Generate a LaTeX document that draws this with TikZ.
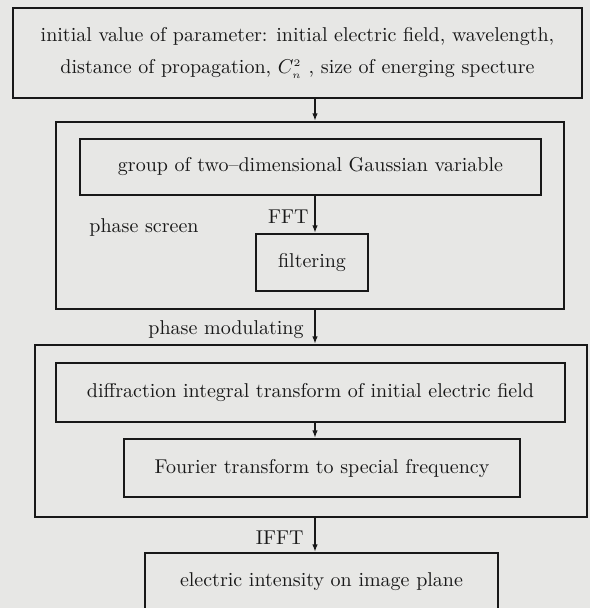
\documentclass[tikz,border=0pt]{standalone}
\usepackage{amsmath, amssymb}
\usetikzlibrary{positioning,arrows.meta}
\definecolor{paper}{RGB}{231,231,229}
\definecolor{ink}{RGB}{24,24,24}
\tikzset{
  flowarrow/.style={-{Latex[length=3.8pt,width=2.8pt]}, line width=0.9pt, draw=ink},
  stepbox/.style={draw=ink, line width=1.1pt, align=center, inner sep=0pt},
  outerbox/.style={draw=ink, line width=1.1pt, inner sep=0pt},
  relabel/.style={font=\fontsize{10}{12}\selectfont, inner sep=1pt}
}

\begin{document}
\begin{tikzpicture}[x=0.5pt, y=-0.5pt, every node/.style={font=\fontsize{10}{16}\selectfont, text=ink}]
  \fill[paper] (0,0) rectangle (590,608);
  \clip (0,0) rectangle (590,608);
  \coordinate (axis) at (315,0);

  % input parameters
  \node[stepbox, minimum width=284.5pt, minimum height=45pt] (param) at (297.5,53)
    {initial value of parameter: initial electric field, wavelength,\\ distance of propagation, $C^{\scriptscriptstyle 2}_{\scriptscriptstyle n}$ , size of energing specture};

  % phase screen block
  \node[outerbox, minimum width=254pt, minimum height=93.5pt] (screen) at (310,215.5) {};
  \node[stepbox, minimum width=230.5pt, minimum height=28pt] (gauss) at (310.5,167) {group of two--dimensional Gaussian variable};
  \node[stepbox, minimum width=56pt, minimum height=28.5pt] (filter) at (312,262.5) {filtering};
  \node[relabel] (screenlbl) at (144,228) {phase screen};

  % propagation block
  \node[outerbox, minimum width=276pt, minimum height=86pt] (modul) at (311,431) {};
  \node[stepbox, minimum width=254.5pt, minimum height=29.5pt] (diffr) at (310.5,392.5) {diffraction integral transform of initial electric field};
  \node[stepbox, minimum width=198pt, minimum height=29pt] (fourier) at (322,468) {Fourier transform to special frequency};

  % output
  \node[stepbox, minimum width=176.5pt, minimum height=29pt] (final) at (321.5,582) {electric intensity on image plane};

  \draw[flowarrow] (param.south -| axis) -- (screen.north -| axis);
  \draw[flowarrow] (gauss.south -| axis) -- (filter.north -| axis);
  \draw[flowarrow] (screen.south -| axis) -- (modul.north -| axis);
  \draw[flowarrow] (diffr.south -| axis) -- (fourier.north -| axis);
  \draw[flowarrow] (modul.south -| axis) -- (final.north -| axis);

  \node[relabel, anchor=east] (fftlbl) at (311,217) {FFT};
  \node[relabel, anchor=east] (modlbl) at (306,330) {phase modulating};
  \node[relabel, anchor=east] (ifftlbl) at (306,538) {IFFT};
\end{tikzpicture}
\end{document}
